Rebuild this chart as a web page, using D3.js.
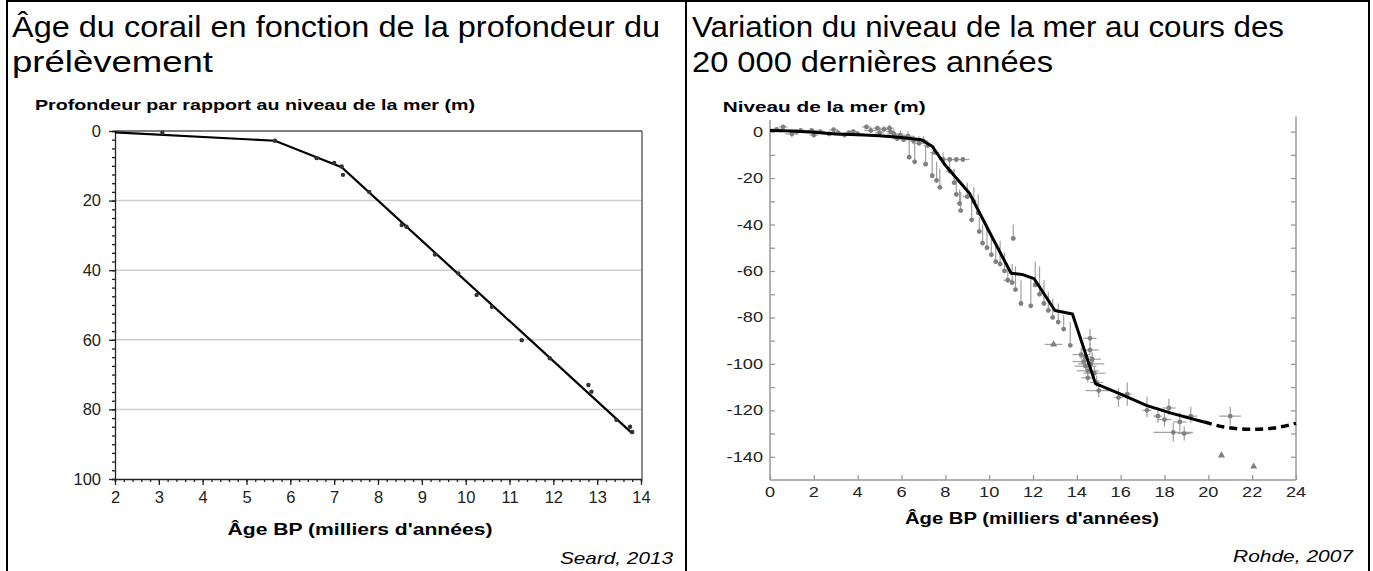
<!DOCTYPE html>
<html><head><meta charset="utf-8">
<script src="https://cdn.jsdelivr.net/npm/d3@7"></script>
<style>
body{margin:0;background:#fff}
svg{display:block}
text{font-family:"Liberation Sans",Arial,sans-serif;fill:#000}
</style>
</head><body>
<svg id="c" width="1373" height="571"></svg>
<script>
// ---------- DATA ----------
const leftTitle = ["Âge du corail en fonction de la profondeur du", "prélèvement"];
const rightTitle = ["Variation du niveau de la mer au cours des", "20 000 dernières années"];
const coralYTitle = "Profondeur par rapport au niveau de la mer (m)";
const seaYTitle = "Niveau de la mer (m)";
const xTitle = "Âge BP (milliers d'années)";
const credits = ["Seard, 2013", "Rohde, 2007"];

const coralTicksX = [2,3,4,5,6,7,8,9,10,11,12,13,14];
const coralTicksY = [0,20,40,60,80,100];
const coralGrid = [20,40,60,80];
// [age (ka), depth (m)]
const coralSamples = [[3.08,0.5],[5.65,2.8],[6.6,7.8],[7.0,9.2],[7.17,10.2],[7.2,12.6],[7.8,17.5],
  [8.54,27],[8.65,27.5],[9.3,35.5],[9.83,40.9],[10.25,47.1],[10.6,50.5],[11.28,60.1],[11.92,65.3],
  [12.8,73],[12.87,74.9],[13.44,83],[13.75,85],[13.8,86.5]];
const coralFit = [[2,0.4],[5.65,2.8],[7.17,10.4],[13.8,86.9]];

const seaTicksX = [0,2,4,6,8,10,12,14,16,18,20,22,24];
const seaTicksY = [0,-20,-40,-60,-80,-100,-120,-140];
const seaCurve = [[0,0.5],[1,0.3],[2,-0.3],[3,-1],[4,-1.3],[5,-1.8],[6,-2.5],[6.9,-3.5],[7.4,-6.3],
  [8,-14.5],[9.1,-26.5],[10,-43],[11,-61],[11.5,-61.5],[12.05,-63.3],[13,-77],[13.8,-78.5],
  [14.85,-108.5],[16,-113],[17.2,-118],[18.3,-121.2],[19.8,-125]];
const seaCurveDashed = [[19.8,-125],[20.85,-127.4],[22,-128.2],[23,-127.6],[24,-125.6]];
// [age, level, age error, error up, error down]
const seaPoints = [
 [0.3,1,0.3,1,1],[0.6,2,0.2,1,1],[1.0,-1,0.3,1,1.5],[1.4,0.5,0.2,1,1],[1.9,0.5,0.3,1,1],[2.3,0,0.2,1,1],
 [2.7,-1,0.3,1,1],[3.1,-0.5,0.2,1,1],[3.4,-1.5,0.3,1,1],[3.8,0,0.2,1,1],[4.0,-1,0.3,1,1],[4.4,2,0.2,1,1],
 [4.6,0.5,0.3,1.5,1],[4.9,1.5,0.2,1,1],[5.2,1,0.3,1.5,1],[5.45,1.5,0.2,1.5,1],[5.65,-1,0.3,2,1],
 [5.8,-3,0.2,2,1],[5.95,-1.5,0.3,2,1],[6.1,-3.5,0.2,2,1],[6.3,-2,0.3,2,1],[6.55,-4,0.2,2,1],
 [6.8,-5,0.3,3,1],[7.0,-4,0.2,2,1],[7.2,-6,0.2,2,1],
 [1.2,0,0.2,1,1],[2.0,-1.5,0.2,1,1],[2.9,0.8,0.2,1,1],[3.6,-0.5,0.2,1,1],[5.0,-0.5,0.2,1,1],[5.5,0,0.2,1,1],
 [6.35,-11,0.1,8,1],[6.6,-13,0.1,8,1],[7.1,-14,0.1,8,1],[7.4,-19,0.1,10,1],[7.6,-21,0.1,8,1],
 [7.75,-24,0.1,8,1],[7.5,-9,0.2,3,1],[7.9,-12,0.2,3,1],
 [8.2,-12,0.4,1,1],[8.5,-12,0.3,1,1],[8.8,-12,0.3,1,1],
 [8.2,-17,0.2,4,1],[8.4,-22,0.1,6,1],[8.5,-27,0.1,6,1],[8.65,-31,0.1,6,1],[8.7,-34,0.1,8,1],
 [9.0,-28,0.2,6,1],[9.2,-38,0.1,10,1],[9.3,-30,0.1,6,1],[9.5,-35,0.1,8,1],[9.55,-43,0.1,6,1],
 [9.7,-48,0.1,8,1],[9.9,-50,0.1,10,1],[10.1,-53,0.1,8,1],[10.3,-56,0.1,8,1],[10.5,-57,0.1,10,1],
 [10.7,-60,0.1,8,1],[10.85,-64,0.2,6,1],[11.05,-65,0.1,8,1],[11.2,-68,0.1,10,1],[11.45,-74,0.1,10,1],
 [11.9,-75,0.1,12,1],[11.1,-46,0.1,6,1],
 [12.1,-66,0.1,10,1],[12.3,-70,0.1,12,1],[12.5,-74,0.1,10,1],[12.7,-77,0.1,8,1],[12.9,-80,0.1,8,1],
 [13.15,-82,0.1,8,1],[13.4,-85,0.1,6,1],[13.7,-92,0.1,10,1],
 [14.2,-96,0.4,3,2],[14.3,-99,0.5,3,2],[14.4,-101,0.5,3,2],[14.5,-103,0.5,3,2],[14.6,-89,0.3,4,3],
 [14.6,-94,0.4,3,2],[14.7,-98,0.4,3,2],[14.8,-104,0.5,3,2],[14.5,-106,0.3,2,2],[14.9,-108,0.3,3,2],
 [14.4,-97,0.3,3,2],[14.65,-100,0.6,3,2],
 [15.0,-111.5,0.6,3,3],[15.9,-114.5,0.2,4,4],[16.3,-113,0.2,5,5],[17.2,-120,0.2,6,3],[17.7,-122.5,0.2,4,3],
 [18.0,-124,0.3,3,3],[18.2,-119,0.3,4,3],[18.4,-129.5,0.9,4,4],[18.7,-125,0.3,4,4],[18.9,-130,0.3,3,3],
 [19.2,-122.5,0.3,4,3],[21.0,-122.5,0.5,4,4]
];
const seaTriangles = [[12.94,-91.6,0.4],[20.6,-139.4,0],[22.07,-144.2,0]];

// ---------- DRAW ----------
const svg = d3.select("#c");

// table borders
const border = svg.append("g").attr("stroke","#000").attr("stroke-width",2);
border.append("line").attr("x1",6).attr("x2",1370).attr("y1",1).attr("y2",1);
[7,686,1369].forEach(x=>border.append("line").attr("x1",x).attr("x2",x).attr("y1",0).attr("y2",571));

function label(g, x, y, s, o={}) {
  const t = g.append("text").attr("x",x).attr("y",y).text(s)
    .style("font-size",(o.size||15)+"px");
  if (o.bold) t.style("font-weight","bold");
  if (o.italic) t.style("font-style","italic");
  if (o.anchor) t.attr("text-anchor",o.anchor);
  if (o.len) t.attr("textLength",o.len).attr("lengthAdjust","spacingAndGlyphs");
  if (o.fill) t.style("fill",o.fill);
  return t;
}

// headline titles
const leftLens = [648, 201], rightLens = [592, 361];
leftTitle.forEach((s,i)=>label(svg,12,37+35*i,s,{size:30, len:leftLens[i]}));
rightTitle.forEach((s,i)=>label(svg,692,37+35*i,s,{size:30, len:rightLens[i]}));

// ===== Left chart =====
const lx = d3.scaleLinear().domain([2,14]).range([115,641]);
const ly = d3.scaleLinear().domain([0,100]).range([131,479]);
const L = svg.append("g");

L.selectAll("line.grid").data(coralGrid).join("line")
  .attr("x1",lx(2)).attr("x2",642).attr("y1",d=>ly(d)).attr("y2",d=>ly(d))
  .attr("stroke","#cfcfcf").attr("stroke-width",1.5);
L.append("line").attr("x1",lx(2)).attr("x2",642).attr("y1",ly(0)).attr("y2",ly(0)).attr("stroke","#555").attr("stroke-width",1.5);
L.append("line").attr("x1",642).attr("x2",642).attr("y1",ly(0)).attr("y2",ly(100)).attr("stroke","#666").attr("stroke-width",1.5);

const lyAxis = d3.axisLeft(ly).tickValues(d3.range(0,100.1,2.5)).tickSize(3).tickFormat("");
L.append("g").attr("transform",`translate(${lx(2)},0)`).call(lyAxis)
  .call(g=>g.selectAll("line,path").attr("stroke","#222").attr("stroke-width",1.3));
const lyMajor = d3.axisLeft(ly).tickValues(coralTicksY).tickSize(6).tickFormat(d3.format("d")).tickPadding(8);
L.append("g").attr("transform",`translate(${lx(2)},0)`).call(lyMajor)
  .call(g=>{g.select(".domain").remove(); g.selectAll("line").attr("stroke","#222").attr("stroke-width",1.3);
    g.selectAll("text").style("font-size","16.5px").style("fill","#222").attr("font-family",null);});
const lxAxis = d3.axisBottom(lx).tickValues(d3.range(2,14.01,0.2)).tickSize(3).tickFormat("");
L.append("g").attr("transform",`translate(0,${ly(100)})`).call(lxAxis)
  .call(g=>g.selectAll("line,path").attr("stroke","#222").attr("stroke-width",1.3));
const lxMajor = d3.axisBottom(lx).tickValues(coralTicksX).tickSize(6).tickFormat(d3.format("d")).tickPadding(6);
L.append("g").attr("transform",`translate(0,${ly(100)})`).call(lxMajor)
  .call(g=>{g.select(".domain").remove(); g.selectAll("line").attr("stroke","#222").attr("stroke-width",1.3);
    g.selectAll("text").style("font-size","16.5px").style("fill","#222").attr("font-family",null);});

L.append("path").datum(coralFit)
  .attr("d",d3.line().x(d=>lx(d[0])).y(d=>ly(d[1])))
  .attr("fill","none").attr("stroke","#000").attr("stroke-width",2.2);
L.selectAll("circle").data(coralSamples).join("circle")
  .attr("cx",d=>lx(d[0])).attr("cy",d=>ly(d[1])).attr("r",2.2).attr("fill","#333");

label(svg,35,110,coralYTitle,{size:15,bold:true,len:440});
label(svg,360,535,xTitle,{size:16,bold:true,anchor:"middle",len:265});
label(svg,673,564,credits[0],{size:17,italic:true,anchor:"end",len:113});

// ===== Right chart =====
const rx = d3.scaleLinear().domain([0,24]).range([770,1296]);
const ry = d3.scaleLinear().domain([-150,5]).range([480,120]);
const R = svg.append("g");
const axCol = "#9a9a9a";

R.append("line").attr("x1",rx(0)).attr("x2",rx(0)).attr("y1",ry(5)).attr("y2",ry(-150)).attr("stroke",axCol).attr("stroke-width",1.5);
R.append("line").attr("x1",rx(24)).attr("x2",rx(24)).attr("y1",ry(6.5)).attr("y2",ry(-150)).attr("stroke",axCol).attr("stroke-width",1.5);
R.append("line").attr("x1",rx(0)).attr("x2",rx(24)).attr("y1",ry(-150)).attr("y2",ry(-150)).attr("stroke",axCol).attr("stroke-width",1.5);
const tick10 = d3.range(0,-150,-10);
const ryL = d3.axisRight(ry).tickValues(tick10).tickSize(5).tickFormat("");
R.append("g").attr("transform",`translate(${rx(0)},0)`).call(ryL)
  .call(g=>{g.select(".domain").remove(); g.selectAll("line").attr("stroke",axCol).attr("stroke-width",1.3);});
const ryR = d3.axisLeft(ry).tickValues(tick10).tickSize(5).tickFormat("");
R.append("g").attr("transform",`translate(${rx(24)},0)`).call(ryR)
  .call(g=>{g.select(".domain").remove(); g.selectAll("line").attr("stroke",axCol).attr("stroke-width",1.3);});
const rxB = d3.axisTop(rx).tickValues(seaTicksX).tickSize(5).tickFormat("");
R.append("g").attr("transform",`translate(0,${ry(-150)})`).call(rxB)
  .call(g=>{g.select(".domain").remove(); g.selectAll("line").attr("stroke",axCol).attr("stroke-width",1.3);});

seaTicksY.forEach(v=>{
  R.append("text").text(d3.format("d")(v).replace("−","-"))
    .attr("transform",`translate(${rx(0)-7},${ry(v)+5}) scale(1.3,1)`)
    .attr("text-anchor","end").style("font-size","14px").style("fill","#222");
});
seaTicksX.forEach(v=>{
  R.append("text").text(v)
    .attr("transform",`translate(${rx(v)},497) scale(1.3,1)`)
    .attr("text-anchor","middle").style("font-size","14px").style("fill","#222");
});

const eb = R.append("g").attr("stroke","#a0a0a0").attr("stroke-width",1.2);
seaPoints.forEach(p=>{
  eb.append("line").attr("x1",rx(p[0])).attr("x2",rx(p[0])).attr("y1",ry(p[1]+p[3])).attr("y2",ry(p[1]-p[4]));
  eb.append("line").attr("x1",rx(p[0]-p[2])).attr("x2",rx(p[0]+p[2])).attr("y1",ry(p[1])).attr("y2",ry(p[1]));
});
R.append("g").selectAll("circle").data(seaPoints).join("circle")
  .attr("cx",d=>rx(d[0])).attr("cy",d=>ry(d[1])).attr("r",2.4).attr("fill","#808080");
seaTriangles.forEach(t=>{
  if (t[2]>0) eb.append("line").attr("x1",rx(t[0]-t[2])).attr("x2",rx(t[0]+t[2])).attr("y1",ry(t[1])).attr("y2",ry(t[1]));
});
R.append("g").selectAll("path").data(seaTriangles).join("path")
  .attr("d",d3.symbol(d3.symbolTriangle,22))
  .attr("transform",d=>`translate(${rx(d[0])},${ry(d[1])})`).attr("fill","#808080");

R.append("path").datum(seaCurve)
  .attr("d",d3.line().x(d=>rx(d[0])).y(d=>ry(d[1])))
  .attr("fill","none").attr("stroke","#000").attr("stroke-width",3).attr("stroke-linejoin","round");
R.append("path").datum(seaCurveDashed)
  .attr("d",d3.line().curve(d3.curveMonotoneX).x(d=>rx(d[0])).y(d=>ry(d[1])))
  .attr("fill","none").attr("stroke","#000").attr("stroke-width",3.5).attr("stroke-dasharray","8,5");

label(svg,722.7,112,seaYTitle,{size:15,bold:true,len:203});
label(svg,1032,524,xTitle,{size:16,bold:true,anchor:"middle",len:254});
label(svg,1353,562,credits[1],{size:17,italic:true,anchor:"end",len:120});
</script>
</body></html>
